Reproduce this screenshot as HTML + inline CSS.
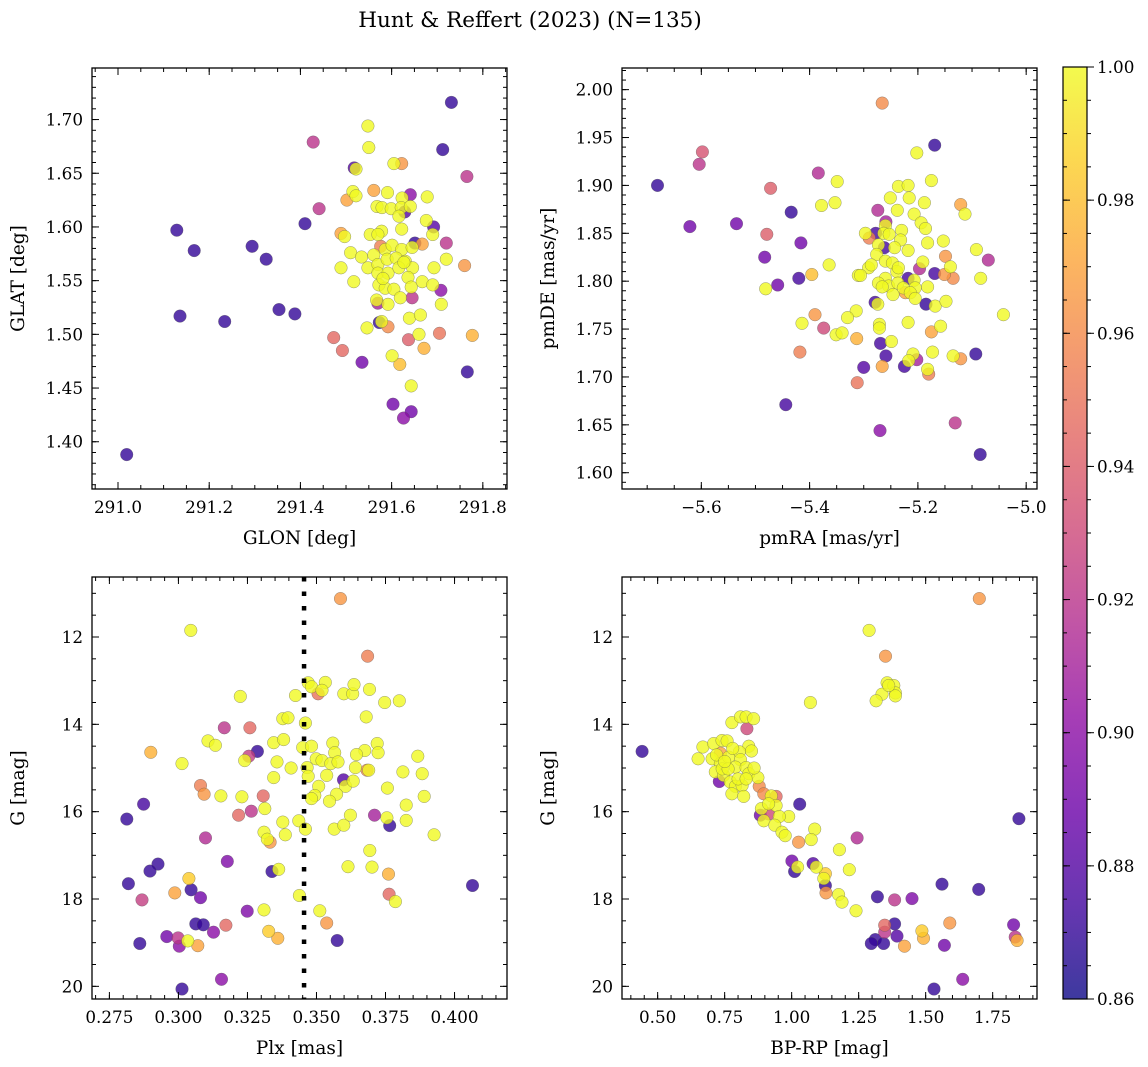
<!DOCTYPE html>
<html><head><meta charset="utf-8"><style>
html,body{margin:0;padding:0;background:#fff;}
svg{display:block;font-family:"DejaVu Serif","Liberation Serif",serif;}
</style></head><body>
<svg id="fig" width="1148" height="1067" viewBox="0 0 1148 1067" xmlns="http://www.w3.org/2000/svg">
<defs><linearGradient id="plasma" x1="0" y1="1" x2="0" y2="0">
<stop offset="0" stop-color="#0d0887"/><stop offset="0.1" stop-color="#41049d"/><stop offset="0.2" stop-color="#6a00a8"/><stop offset="0.3" stop-color="#8f0da4"/><stop offset="0.4" stop-color="#b12a90"/><stop offset="0.5" stop-color="#cc4778"/><stop offset="0.6" stop-color="#e16462"/><stop offset="0.7" stop-color="#f2844b"/><stop offset="0.8" stop-color="#fca636"/><stop offset="0.9" stop-color="#fcce25"/><stop offset="1" stop-color="#f0f921"/>
</linearGradient></defs>
<text x="530" y="27" text-anchor="middle" font-size="21.5">Hunt &amp; Reffert (2023) (N=135)</text>
<g id="plots"></g>
<rect x="1063" y="67" width="24" height="932" fill="url(#plasma)" opacity="0.8"/>
<rect x="1063" y="67" width="24" height="932" fill="none" stroke="#000" stroke-width="1.2"/>
<g id="cbticks"></g>
</svg>
<script>
// ---------- Panel 1: GLON vs GLAT ----------
const p1_glon=[291.019,291.129,291.167,291.294,291.325,291.136,291.234,291.353,291.388,291.410,291.731,291.712,291.766,291.573,291.651,291.518,291.692,
291.428,291.441,291.765,291.641,291.720,291.708,291.645,291.570,291.535,291.603,291.643,291.626,291.629,
291.622,291.561,291.502,291.489,291.576,291.667,291.760,291.592,291.473,291.492,291.637,291.705,291.777,291.671,291.618,
291.548,291.550,291.605,291.522,291.515,291.522,291.591,291.623,291.678,291.568,291.579,291.599,291.621,291.641,291.616,291.676,291.622,291.578,291.553,291.570,291.497,291.690,291.510,291.534,291.561,291.586,291.601,291.622,291.645,291.489,291.548,291.570,291.590,291.610,291.630,291.646,291.693,291.720,291.517,291.570,291.592,291.616,291.636,291.667,291.690,291.572,291.586,291.605,291.619,291.643,291.567,291.592,291.709,291.639,291.663,291.578,291.546,291.660,291.601,291.643,291.581,291.627];
const p1_glat=[1.388,1.597,1.578,1.582,1.570,1.517,1.512,1.523,1.519,1.603,1.716,1.672,1.465,1.511,1.585,1.655,1.600,
1.679,1.617,1.647,1.630,1.585,1.541,1.534,1.529,1.474,1.435,1.428,1.422,1.614,
1.659,1.634,1.625,1.594,1.582,1.584,1.564,1.507,1.497,1.485,1.495,1.501,1.499,1.487,1.472,
1.694,1.674,1.659,1.654,1.633,1.629,1.632,1.627,1.628,1.619,1.618,1.617,1.618,1.619,1.610,1.606,1.598,1.596,1.593,1.593,1.591,1.593,1.576,1.572,1.574,1.579,1.583,1.579,1.581,1.562,1.562,1.565,1.570,1.571,1.568,1.562,1.562,1.570,1.549,1.557,1.557,1.562,1.553,1.549,1.546,1.546,1.543,1.542,1.534,1.544,1.532,1.528,1.528,1.515,1.518,1.512,1.506,1.500,1.480,1.452,1.552,1.567];
const p1_prob=[0.87,0.87,0.87,0.87,0.87,0.87,0.87,0.87,0.87,0.87,0.87,0.87,0.87,0.87,0.87,0.88,0.88,
0.92,0.92,0.92,0.90,0.92,0.90,0.92,0.91,0.89,0.89,0.89,0.90,0.88,
0.965,0.97,0.97,0.97,0.955,0.97,0.965,0.96,0.945,0.945,0.94,0.95,0.975,0.975,0.98,
1,1,1,1,1,1,1,1,1,1,1,1,1,1,1,1,1,1,1,1,1,1,1,1,1,1,1,1,1,1,1,1,1,1,1,1,1,1,1,1,1,1,1,1,1,1,1,1,1,1,1,1,1,1,1,1,1,1,1,1,1,1];

// ---------- Panel 2: pmRA vs pmDE ----------
const p2_pmra=[-5.681,-5.621,-5.535,-5.434,-5.416,-5.483,-5.420,-5.459,-5.444,-5.169,-5.093,-5.085,-5.185,-5.169,-5.218,-5.279,-5.225,-5.300,-5.259,-5.269,-5.262,-5.278,
-5.598,-5.604,-5.384,-5.472,-5.479,-5.374,-5.274,-5.259,-5.070,-5.197,-5.270,-5.131,-5.202,
-5.266,-5.121,-5.149,-5.151,-5.135,-5.390,-5.418,-5.312,-5.266,-5.180,-5.121,-5.175,-5.313,-5.223,-5.290,-5.396,
-5.202,-5.349,-5.175,-5.378,-5.353,-5.236,-5.218,-5.251,-5.216,-5.188,-5.238,-5.207,-5.194,-5.186,-5.182,-5.153,-5.092,-5.113,-5.297,-5.273,-5.260,-5.263,-5.253,-5.230,-5.232,-5.243,-5.218,-5.276,-5.260,-5.247,-5.291,-5.310,-5.286,-5.191,-5.140,-5.084,-5.239,-5.260,-5.273,-5.254,-5.237,-5.207,-5.205,-5.182,-5.266,-5.246,-5.227,-5.214,-5.205,-5.168,-5.148,-5.274,-5.314,-5.330,-5.364,-5.414,-5.481,-5.351,-5.340,-5.271,-5.271,-5.249,-5.218,-5.158,-5.173,-5.135,-5.042,-5.209,-5.217,-5.182,-5.236,-5.306];
const p2_pmde=[1.900,1.857,1.860,1.872,1.840,1.825,1.803,1.796,1.671,1.942,1.724,1.619,1.776,1.808,1.803,1.778,1.711,1.710,1.722,1.735,1.835,1.850,
1.935,1.922,1.913,1.897,1.849,1.751,1.874,1.862,1.822,1.813,1.644,1.652,1.718,
1.986,1.880,1.826,1.807,1.803,1.765,1.726,1.694,1.711,1.703,1.719,1.747,1.740,1.788,1.845,1.807,
1.934,1.904,1.905,1.879,1.882,1.899,1.900,1.887,1.887,1.882,1.874,1.870,1.861,1.855,1.840,1.842,1.833,1.870,1.850,1.838,1.858,1.850,1.849,1.853,1.843,1.835,1.832,1.828,1.821,1.819,1.814,1.806,1.817,1.820,1.815,1.803,1.810,1.803,1.798,1.795,1.798,1.801,1.793,1.794,1.794,1.786,1.793,1.788,1.782,1.774,1.779,1.776,1.769,1.762,1.817,1.756,1.792,1.744,1.746,1.755,1.751,1.737,1.757,1.753,1.726,1.722,1.765,1.724,1.717,1.708,1.814,1.806];
const p2_prob=[0.87,0.89,0.89,0.87,0.89,0.89,0.875,0.89,0.875,0.87,0.87,0.87,0.87,0.875,0.875,0.875,0.875,0.88,0.875,0.875,0.875,0.875,
0.935,0.92,0.915,0.94,0.94,0.93,0.915,0.91,0.915,0.915,0.90,0.92,0.91,
0.96,0.97,0.965,0.965,0.96,0.965,0.955,0.95,0.97,0.955,0.965,0.97,0.975,0.97,0.955,0.98];

// ---------- Panel 3: Plx vs G ----------
const p3_plx=[0.3587,0.3045,0.3685,0.3470,0.3482,0.3532,0.3520,0.3506,0.3599,0.3631,0.3636,0.3692,0.3747,0.3800,0.3424,0.3224,0.3680,0.3378,0.3397,0.3460,0.3166,0.3259,0.3107,0.3134,0.3345,0.3381,0.3450,0.3482,0.3559,0.3566,0.3675,0.3720,0.3723,0.3645,0.3867,0.2900,0.3286,0.3255,0.3240,0.3013,0.3357,0.3408,0.3466,0.3499,0.3520,0.3552,0.3578,0.3641,0.3683,0.3689,0.3813,0.3883,0.3345,0.3470,0.3537,0.3598,0.3605,0.3633,0.3508,0.3494,0.3482,0.3573,0.3547,0.3757,0.3890,0.3825,0.3080,0.3093,0.3154,0.3230,0.3307,0.3313,0.3264,0.3218,0.2874,0.2813,0.3378,0.3436,0.3460,0.3387,0.3310,0.3322,0.3332,0.3564,0.3599,0.3623,0.3755,0.3765,0.3710,0.3825,0.3926,0.3098,0.3693,0.3177,0.2926,0.2897,0.3363,0.3339,0.3614,0.3701,0.3761,0.2819,0.4065,0.3038,0.2987,0.3046,0.3080,0.2868,0.3438,0.3763,0.3786,0.3310,0.3249,0.3512,0.3537,0.3063,0.3090,0.3127,0.3172,0.3327,0.3360,0.2860,0.2958,0.2999,0.3003,0.3034,0.3070,0.3575,0.3156,0.3013];
const p3_g=[11.12,11.85,12.44,13.05,13.14,13.04,13.22,13.30,13.30,13.30,13.09,13.20,13.50,13.46,13.34,13.36,13.83,13.87,13.85,13.97,14.08,14.08,14.38,14.48,14.42,14.35,14.53,14.50,14.43,14.65,14.60,14.44,14.65,14.69,14.73,14.64,14.62,14.73,14.83,14.90,14.86,15.00,14.99,14.79,14.83,14.90,14.86,14.99,15.05,15.05,15.09,15.13,15.22,15.19,15.17,15.27,15.42,15.30,15.42,15.63,15.70,15.60,15.76,15.46,15.65,15.85,15.40,15.60,15.64,15.66,15.64,15.93,15.99,16.08,15.83,16.17,16.24,16.21,16.40,16.53,16.47,16.63,16.70,16.40,16.31,16.08,16.14,16.32,16.08,16.20,16.53,16.60,16.89,17.14,17.20,17.36,17.32,17.37,17.26,17.27,17.43,17.65,17.69,17.53,17.86,17.79,17.97,18.02,17.92,17.89,18.06,18.25,18.28,18.27,18.55,18.57,18.59,18.76,18.60,18.74,18.90,19.02,18.86,18.89,19.08,18.96,19.07,18.95,19.84,20.06];
const p3_prob=[0.965,1,0.955,1,1,1,1,0.95,1,1,1,1,1,1,1,1,1,1,1,1,0.92,0.945,1,1,1,1,1,1,1,1,1,1,1,1,1,0.975,0.87,0.925,1,1,1,1,1,1,1,1,1,1,0.96,1,1,1,1,1,1,0.88,1,1,1,1,1,1,1,1,1,1,0.955,0.965,1,1,0.945,1,0.92,0.945,0.875,0.87,1,1,1,1,1,1,0.965,1,1,1,1,0.87,0.91,1,1,0.915,1,0.895,0.87,0.87,1,0.87,1,1,0.975,0.87,0.87,0.985,0.97,0.87,0.89,0.925,1,0.945,1,1,0.895,1,0.965,0.87,0.87,0.90,0.945,0.985,0.975,0.87,0.89,0.92,0.90,1,0.97,0.87,0.90,0.87];
const p3_cut=[0.3455];

// ---------- Panel 4: BP-RP vs G ----------
const p4_bprp=[1.700,1.289,1.350,1.356,1.381,1.337,1.315,1.387,1.387,1.362,1.070,0.777,0.809,0.830,0.858,0.833,0.442,0.669,0.651,0.709,0.740,0.759,0.840,0.850,0.703,0.734,0.765,0.805,0.809,0.790,0.830,0.715,0.746,0.840,0.874,0.771,0.790,0.815,0.777,0.821,0.924,0.942,0.887,0.914,0.989,0.954,0.896,0.937,0.964,0.976,1.086,1.073,1.178,1.215,1.022,1.092,1.120,1.175,1.188,1.240,0.741,0.763,0.734,0.879,0.896,0.942,0.730,0.914,0.883,1.030,1.244,1.026,1.001,1.011,1.080,1.126,1.126,1.128,1.320,1.384,1.449,1.561,1.698,1.848,1.384,1.347,1.347,1.393,1.312,1.297,1.343,1.421,1.486,1.492,1.590,1.570,1.828,1.834,1.841,1.638,1.531,0.720,0.780,0.800,0.860,0.750,0.830];
const p4_g=[11.12,11.85,12.44,13.05,13.11,13.31,13.46,13.28,13.35,13.11,13.50,13.96,13.83,13.83,13.87,14.10,14.62,14.52,14.79,14.44,14.37,14.38,14.50,14.61,14.79,14.90,14.75,14.63,14.81,14.98,14.99,15.09,15.17,15.13,15.22,15.32,15.42,15.40,15.59,15.65,15.64,15.86,15.93,15.82,16.11,16.11,16.21,16.31,16.47,16.55,16.40,16.64,16.87,17.33,17.27,17.27,17.53,17.90,18.07,18.27,15.02,15.02,14.66,15.42,15.59,15.65,15.31,16.05,16.08,15.83,16.60,16.70,17.13,17.37,17.19,17.42,17.69,17.86,17.95,18.02,17.99,17.66,17.78,16.16,18.57,18.60,18.76,18.85,18.93,19.02,19.02,19.08,18.73,18.90,18.55,19.06,18.59,18.87,18.95,19.84,20.06,14.70,14.55,15.25,15.00,14.85,15.25];
const p4_prob=[0.965,1,0.965,1,1,1,1,1,1,1,1,1,1,1,1,0.93,0.87,1,1,1,1,1,1,1,1,1,1,1,1,1,1,1,1,1,1,1,1,1,1,1,1,1,1,1,1,1,1,1,1,1,1,1,1,1,1,1,1,1,1,1,1,1,0.97,0.96,0.96,0.945,0.89,0.93,0.89,0.87,0.915,0.965,0.89,0.87,0.88,0.985,0.87,0.965,0.87,0.92,0.895,0.87,0.87,0.87,0.87,0.945,0.92,0.88,0.87,0.87,0.87,0.97,0.985,0.975,0.965,0.89,0.89,0.92,0.975,0.90,0.87,1,1,1,1,1,1];

// ---------- Colorbar ----------
const cb_ticks=[0.86,0.88,0.90,0.92,0.94,0.96,0.98,1.00];

const NS="http://www.w3.org/2000/svg";
const stops=[[13,8,135],[65,4,157],[106,0,168],[143,13,164],[177,42,144],[204,71,120],[225,100,98],[242,132,75],[252,166,54],[252,206,37],[240,249,33]];
function plasma(p){let t=Math.max(0,Math.min(1,(p-0.86)/0.14))*10;let i=Math.min(9,Math.floor(t)),f=t-i;const a=stops[i],b=stops[i+1];return 'rgb('+a.map((v,k)=>Math.round(v+(b[k]-v)*f)).join(',')+')';}
function el(tag,attrs,parent){const e=document.createElementNS(NS,tag);for(const k in attrs)e.setAttribute(k,attrs[k]);parent.appendChild(e);return e;}
const root=document.getElementById('plots');
function fmt(v,d){let s=v.toFixed(d);return s.replace('-','\u2212');}
const TF=16.8, AF=18.5;

function panel(name,box,xd,yd,xt,yt,xs,ys,xdec,ydec,xlab,ylab,xs_,ys_,ps_){
  const [L,T,R,B]=box;
  const g=el('g',{},root);
  
  
  const X=v=>L+(v-xd[0])/(xd[1]-xd[0])*(R-L);
  const Y=v=>B-(v-yd[0])/(yd[1]-yd[0])*(B-T);
  const idx=ps_.map((p,i)=>i).sort((a,b)=>ps_[a]-ps_[b]);
  const pts=el('g',{},g);
  
  
  for(const i of idx){
    const c=el('circle',{cx:X(xs_[i]).toFixed(1),cy:Y(ys_[i]).toFixed(1),r:6.3,fill:plasma(ps_[i]),'fill-opacity':0.8,stroke:'#555','stroke-opacity':0.6,'stroke-width':0.5},pts);
    
    
  }
  const tk=el('g',{stroke:'#000','stroke-width':1},g);
  
  
  function ticks(lo,hi,step,len,axis,labels,dec){
    const n0=Math.ceil(lo/step-1e-6),n1=Math.floor(hi/step+1e-6);
    for(let n=n0;n<=n1;n++){const v=n*step;
      if(axis==='x'){const x=X(v);el('line',{x1:x,x2:x,y1:B,y2:B-len},tk);el('line',{x1:x,x2:x,y1:T,y2:T+len},tk);
        if(labels){const t=el('text',{x:x,y:B+24,'text-anchor':'middle','font-size':TF,stroke:'none',fill:'#000'},g);t.textContent=fmt(v,dec);}}
      else{const y=Y(v);el('line',{x1:L,x2:L+len,y1:y,y2:y},tk);el('line',{x1:R,x2:R-len,y1:y,y2:y},tk);
        if(labels){const t=el('text',{x:L-9,y:y+6,'text-anchor':'end','font-size':TF,stroke:'none',fill:'#000'},g);t.textContent=fmt(v,dec);}}
    }
  }
  const xlo=Math.min(...xd),xhi=Math.max(...xd),ylo=Math.min(...yd),yhi=Math.max(...yd);
  ticks(xlo,xhi,xs,4,'x',false);ticks(xlo,xhi,xt,7,'x',true,xdec);
  ticks(ylo,yhi,ys,4,'y',false);ticks(ylo,yhi,yt,7,'y',true,ydec);
  const fr=el('rect',{x:L,y:T,width:R-L,height:B-T,fill:'none',stroke:'#000','stroke-width':1.3},g);
  
  
  const xl=el('text',{x:(L+R)/2,y:B+55,'text-anchor':'middle','font-size':AF},g);xl.textContent=xlab;
  
  
  const yx=L-68,yy=(T+B)/2;
  const yl=el('text',{x:yx,y:yy,'text-anchor':'middle','font-size':AF,transform:'rotate(-90 '+yx+' '+yy+')'},g);yl.textContent=ylab;
  
  
  return {X,Y,g};
}
panel('panel-glon-glat',[92,68,507,489],[290.943,291.853],[1.356,1.748],0.2,0.05,0.05,0.01,1,2,'GLON [deg]','GLAT [deg]',p1_glon,p1_glat,p1_prob);
const p2probFull=p2_pmra.map((v,i)=>i<p2_prob.length?p2_prob[i]:1);
panel('panel-pm',[622,68,1037,489],[-5.7465,-4.980],[1.583,2.0226],0.2,0.05,0.05,0.01,1,2,'pmRA [mas/yr]','pmDE [mas/yr]',p2_pmra,p2_pmde,p2probFull);
const a3=panel('panel-plx-g',[92,577,507,999],[0.2687,0.4190],[20.29,10.626],0.025,2,0.005,0.5,3,0,'Plx [mas]','G [mag]',p3_plx,p3_g,p3_prob);
for(const c of p3_cut){const ln=el('line',{x1:a3.X(c),x2:a3.X(c),y1:577,y2:999,stroke:'#000','stroke-width':4.5,'stroke-dasharray':'4.5 10'},a3.g);
  
  }
panel('panel-cmd',[622,577,1037,999],[0.367,1.9154],[20.29,10.626],0.25,2,0.05,0.5,2,0,'BP-RP [mag]','G [mag]',p4_bprp,p4_g,p4_prob);

const cb=document.getElementById('cbticks');
const CY=v=>999-(v-0.86)/0.14*932;
for(let v=0.86;v<=1.0001;v+=0.005){const y=CY(v);el('line',{x1:1087,x2:1091,y1:y,y2:y,stroke:'#000','stroke-width':1},cb);el('line',{x1:1063,x2:1067,y1:y,y2:y,stroke:'#000','stroke-width':1},cb);}
for(const v of cb_ticks){const y=CY(v);el('line',{x1:1087,x2:1094,y1:y,y2:y,stroke:'#000','stroke-width':1},cb);el('line',{x1:1063,x2:1070,y1:y,y2:y,stroke:'#000','stroke-width':1},cb);
  const t=el('text',{x:1097,y:y+6,'font-size':TF},cb);t.textContent=v.toFixed(2);
  
  }
</script>
</body></html>
